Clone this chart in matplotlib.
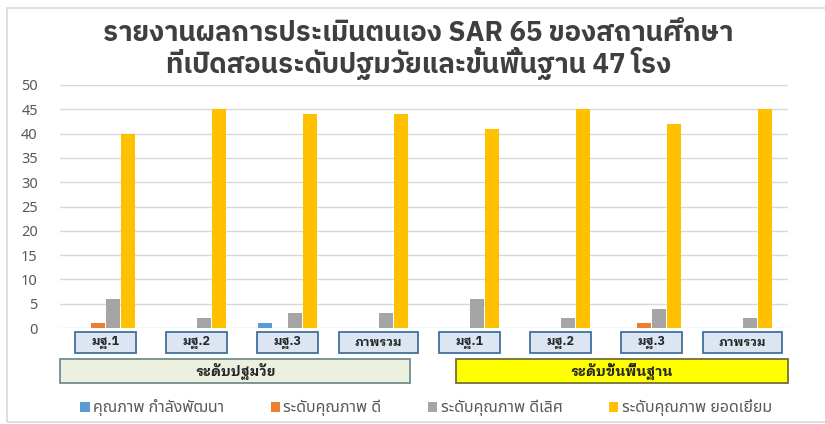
import matplotlib
matplotlib.use("Agg")
import matplotlib.pyplot as plt
import matplotlib.transforms as mtransforms
from matplotlib.patches import Rectangle
import numpy as np

plt.rcParams["font.family"] = ["Noto Sans Thai", "DejaVu Sans"]

# data
title = "รายงานผลการประเมินตนเอง SAR 65 ของสถานศึกษา\nที่เปิดสอนระดับปฐมวัยและขั้นพื้นฐาน 47 โรง"
categories = ["มฐ.1", "มฐ.2", "มฐ.3", "ภาพรวม", "มฐ.1", "มฐ.2", "มฐ.3", "ภาพรวม"]
levels = ["ระดับปฐมวัย", "ระดับขั้นพื้นฐาน"]
series_names = ["คุณภาพ กำลังพัฒนา", "ระดับคุณภาพ ดี", "ระดับคุณภาพ ดีเลิศ", "ระดับคุณภาพ ยอดเยี่ยม"]
developing = [0, 0, 1, 0, 0, 0, 0, 0]
good = [1, 0, 0, 0, 0, 0, 1, 0]
excellent = [6, 2, 3, 3, 6, 2, 4, 2]
outstanding = [40, 45, 44, 44, 41, 45, 42, 45]
yticks = [0, 5, 10, 15, 20, 25, 30, 35, 40, 45, 50]

colors = ["#5b9bd5", "#ed7d31", "#a5a5a5", "#ffc000"]
series = [developing, good, excellent, outstanding]

fig = plt.figure(figsize=(8.25, 4.24), dpi=100)
ax = fig.add_axes([60 / 825, 96 / 424, 728 / 825, 243 / 424])

x = np.arange(len(categories))
width = 0.145
step = 0.165
for i, (vals, c, name) in enumerate(zip(series, colors, series_names)):
    ax.bar(x + (i - 1.5) * step, vals, width, color=c, label=name, zorder=3)

ax.set_xlim(-0.5, len(categories) - 0.5)
ax.set_ylim(0, 50)
ax.set_yticks(yticks)
ax.set_xticks([])
ax.grid(axis="y", color="#d9d9d9", linewidth=1, zorder=0)
for s in ax.spines.values():
    s.set_visible(False)
ax.tick_params(axis="y", length=0, pad=16, labelsize=10.5, labelcolor="#595959")

fig.text(0.507, 0.952, title, ha="center", va="top", fontsize=19.8,
         fontweight="bold", color="#3f3f3f", linespacing=0.98,
         family=["IBM Plex Sans Thai", "DejaVu Sans"])

# category boxes below the axis
trans = mtransforms.blended_transform_factory(ax.transData, ax.transAxes)
box_w = [0.66, 0.68, 0.68, 0.86, 0.66, 0.66, 0.66, 0.86]
for xi, lab, w in zip(x, categories, box_w):
    ax.add_patch(Rectangle((xi - w / 2, -0.103), w, 0.087, transform=trans,
                           facecolor="#dce6f2", edgecolor="#41719c", linewidth=1.3,
                           clip_on=False))
    ax.text(xi, -0.06, lab, transform=trans, ha="center", va="center",
            fontsize=9, fontweight="bold", color="#262626",
            family=["IBM Plex Sans Thai Looped", "DejaVu Sans"])

level_spans = [(-0.5, 3.35), (3.85, 7.5)]
level_fill = ["#ebf1de", "#ffff00"]
level_edge = ["#6f8f8f", "#6f6f3a"]
for (x0, x1), lab, fc, ec in zip(level_spans, levels, level_fill, level_edge):
    ax.add_patch(Rectangle((x0, -0.226), x1 - x0, 0.098, transform=trans,
                           facecolor=fc, edgecolor=ec, linewidth=1.3, clip_on=False))
    ax.text((x0 + x1) / 2, -0.177, lab, transform=trans, ha="center", va="center",
            fontsize=10, fontweight="bold", color="#262626",
            family=["IBM Plex Sans Thai Looped", "DejaVu Sans"])

leg = fig.legend(loc="center", bbox_to_anchor=(426 / 825, 16 / 424), ncol=4,
                 frameon=False, fontsize=11.5, handlelength=0.6, handleheight=0.6,
                 handletextpad=0.2, columnspacing=2.9)
for t in leg.get_texts():
    t.set_color("#595959")

# chart border
fig.patches.append(Rectangle((7 / 825, 2 / 424), 1.0, 414 / 424, transform=fig.transFigure,
                             fill=False, edgecolor="#d9d9d9", linewidth=1.2))

fig.savefig("out.png", dpi=100)
